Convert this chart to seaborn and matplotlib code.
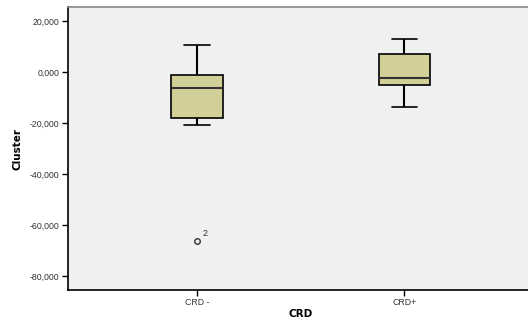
import matplotlib
matplotlib.use("Agg")
import matplotlib.pyplot as plt
import matplotlib.ticker as mticker
import seaborn as sns
import pandas as pd

# Summary values
categories = ["CRD -", "CRD+"]
crd_minus = [-66300, -20800, -18000, -18000, -6300, -1200, -1200, 10600, 10600]
crd_plus = [-13700, -5100, -2400, 7000, 12900]
outlier_label = "2"
outlier_value = -66300
yticks = [20000, 0, -20000, -40000, -60000, -80000]

df = pd.DataFrame({
    "CRD": [categories[0]] * len(crd_minus) + [categories[1]] * len(crd_plus),
    "Cluster": crd_minus + crd_plus,
})

sns.set_style("white")
plt.rcParams["font.family"] = ["Liberation Sans", "DejaVu Sans"]

fig = plt.figure(figsize=(5.28, 3.2), dpi=100)
ax = fig.add_axes([68 / 528, 30 / 320, 1 - 68 / 528 + 0.01, 283 / 320])
ax.set_facecolor("#F0F0F0")

sns.boxplot(
    data=df, x="CRD", y="Cluster", order=categories, ax=ax,
    color="#D3CF98", saturation=1, width=0.25, whis=1.5,
    linecolor="black", linewidth=1.2,
    boxprops=dict(edgecolor="black"),
    medianprops=dict(color="#333333", linewidth=1.5),
    whiskerprops=dict(linewidth=1.5),
    capprops=dict(linewidth=1.2),
    flierprops=dict(marker="o", markersize=4, markerfacecolor="none",
                    markeredgecolor="#333333", markeredgewidth=1),
)

ax.text(0.03, outlier_value + 1200, outlier_label, fontsize=6.5, color="#333333",
        ha="left", va="bottom")

ax.set_ylim(-85500, 25500)
ax.set_xlim(-0.62, 1.62)
ax.set_yticks(yticks)
ax.yaxis.set_major_formatter(mticker.FuncFormatter(
    lambda v, p: ("-" if v < 0 else "") + f"{abs(int(v)) // 1000},000"))
ax.tick_params(axis="both", labelsize=6.3, length=4, width=1,
               direction="out", left=True, bottom=True, labelcolor="#333333",
               color="black", pad=2)
ax.set_xlabel("CRD", fontsize=7.5, fontweight="heavy", labelpad=1,
              family="DejaVu Sans", color="black")
ax.set_ylabel("Cluster", fontsize=7.5, fontweight="heavy", labelpad=5,
              family="DejaVu Sans", color="black")

for side in ["left", "bottom"]:
    ax.spines[side].set_color("black")
    ax.spines[side].set_linewidth(1.2)
ax.spines["top"].set_color("#888888")
ax.spines["top"].set_linewidth(1.2)
ax.spines["right"].set_visible(False)

fig.savefig("out.png", dpi=100, facecolor="white")
